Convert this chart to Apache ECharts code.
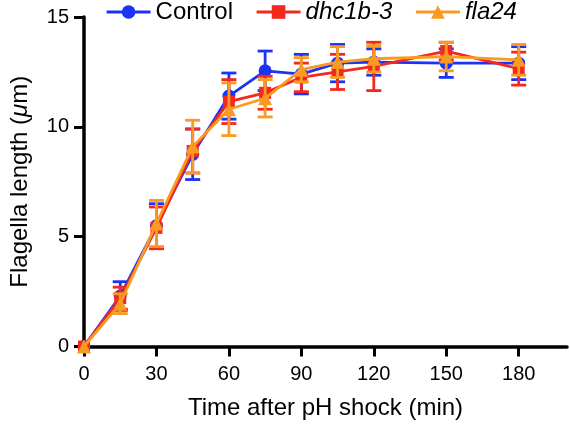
<!DOCTYPE html>
<html>
<head>
<meta charset="utf-8">
<script src="https://cdn.jsdelivr.net/npm/echarts@6/dist/echarts.min.js"></script>
<style>
html,body{margin:0;padding:0;background:#fff;}
#chart{width:570px;height:427px;}
</style>
</head>
<body>
<div id="chart"></div>
<script>
const times = [0, 15, 30, 45, 60, 75, 90, 105, 120, 150, 180];
const xTicks = [0, 30, 60, 90, 120, 150, 180];
const yTicks = [0, 5, 10, 15];

const controlMean = [0, 2.3, 5.5, 8.75, 11.4, 12.55, 12.4, 12.9, 12.95, 12.9, 12.9];
const controlErr  = [0, 0.65, 1.0, 1.15, 1.05, 0.9, 0.9, 0.85, 0.6, 0.65, 0.75];
const dhcMean = [0, 2.2, 5.4, 8.9, 11.15, 11.55, 12.25, 12.5, 12.75, 13.45, 12.65];
const dhcErr  = [0, 0.5, 0.95, 1.0, 1.0, 0.75, 0.65, 0.8, 1.1, 0.4, 0.75];
const flaMean = [0, 1.95, 5.6, 9.1, 10.8, 11.3, 12.6, 12.95, 13.1, 13.2, 13.05];
const flaErr  = [0, 0.45, 1.05, 1.2, 1.2, 0.85, 0.55, 0.7, 0.6, 0.65, 0.7];

const names = ['Control', 'dhc1b-3', 'fla24'];
const colors = ['#1a33f5', '#f5281e', '#f99a22'];
const symbols = ['circle', 'rect', 'triangle'];
const symbolSizes = [13, 12, 14];

const FONT = 'Liberation Sans, Arial, Helvetica, sans-serif';

function errSeries(name, color, vals, errs, z) {
  return {
    type: 'custom',
    name: name + ' err',
    z: z,
    silent: true,
    clip: false,
    data: times.map((t, i) => [t, vals[i] - errs[i], vals[i] + errs[i]]),
    encode: { x: 0, y: [1, 2] },
    renderItem: function (params, api) {
      if (api.value(2) - api.value(1) <= 0) return null;
      const lo = api.coord([api.value(0), api.value(1)]);
      const hi = api.coord([api.value(0), api.value(2)]);
      const w = 7.5;
      const style = { stroke: color, lineWidth: 2.8, fill: null };
      return {
        type: 'group',
        children: [
          { type: 'line', shape: { x1: lo[0], y1: lo[1], x2: hi[0], y2: hi[1] }, style: style },
          { type: 'line', shape: { x1: lo[0] - w, y1: lo[1], x2: lo[0] + w, y2: lo[1] }, style: style },
          { type: 'line', shape: { x1: hi[0] - w, y1: hi[1], x2: hi[0] + w, y2: hi[1] }, style: style }
        ]
      };
    }
  };
}

function lineSeries(idx, vals, z) {
  return {
    type: 'line',
    name: names[idx],
    z: z,
    clip: false,
    data: times.map((t, i) => [t, vals[i]]),
    symbol: symbols[idx],
    symbolSize: symbolSizes[idx],
    showAllSymbol: true,
    color: colors[idx],
    lineStyle: { width: 2.8, color: colors[idx] },
    itemStyle: { color: colors[idx] }
  };
}

const allMeans = [controlMean, dhcMean, flaMean];
const allErrs = [controlErr, dhcErr, flaErr];
const series = [];
for (let i = 0; i < 3; i++) {
  series.push(errSeries(names[i], colors[i], allMeans[i], allErrs[i], 2 + i * 2));
  series.push(lineSeries(i, allMeans[i], 3 + i * 2));
}

const chart = echarts.init(document.getElementById('chart'), null, { renderer: 'canvas' });
chart.setOption({
  animation: false,
  backgroundColor: '#ffffff',
  textStyle: { fontFamily: FONT },
  legend: {
    data: names,
    left: 105,
    top: 0,
    padding: 0,
    itemWidth: 44,
    itemHeight: 17,
    itemGap: 22,
    lineStyle: { width: 3.2 },
    textStyle: {
      fontFamily: FONT, fontSize: 24, color: '#000',
      rich: { i: { fontStyle: 'italic', fontSize: 24, fontFamily: FONT, color: '#000' } }
    },
    formatter: function (name) { return name === 'Control' ? name : '{i|' + name + '}'; }
  },
  grid: { left: 78, right: 3, top: 17, bottom: 80.5, containLabel: false },
  xAxis: {
    type: 'value',
    min: 0, max: 200, interval: 30,
    name: 'Time after pH shock (min)',
    nameLocation: 'middle',
    nameGap: 50,
    nameTextStyle: { fontFamily: FONT, fontSize: 24, color: '#000' },
    axisLine: { show: true, lineStyle: { color: '#000', width: 3.5 } },
    axisTick: { show: true, length: 10, lineStyle: { color: '#000', width: 3 }, customValues: xTicks },
    axisLabel: { fontFamily: FONT, fontSize: 20, color: '#000', margin: 18, customValues: xTicks },
    splitLine: { show: false }
  },
  yAxis: {
    type: 'value',
    min: 0, max: 15, interval: 5,
    name: 'Flagella length ({i|μ}m)',
    nameLocation: 'middle',
    nameGap: 52,
    nameRotate: 90,
    nameTextStyle: {
      fontFamily: FONT, fontSize: 24, color: '#000',
      rich: { i: { fontStyle: 'italic', fontFamily: FONT, fontSize: 24, color: '#000' } }
    },
    axisLine: { show: true, lineStyle: { color: '#000', width: 3.5 } },
    axisTick: { show: true, length: 10, lineStyle: { color: '#000', width: 3 }, customValues: yTicks },
    axisLabel: { fontFamily: FONT, fontSize: 20, color: '#000', margin: 15, customValues: yTicks },
    splitLine: { show: false }
  },
  series: series
});
</script>
</body>
</html>
